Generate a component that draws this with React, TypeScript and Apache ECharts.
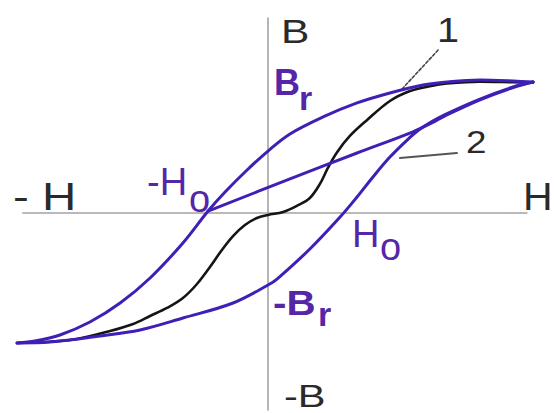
import React, { useEffect, useRef } from "react";
import * as echarts from "echarts";

// Hysteresis diagram, H (field) on x, B (induction) on y, normalised so the loop tip is (1, 1)
const hAxisLine: [number, number][] = [[-0.925, 0], [0.977, 0]];
const bAxisLine: [number, number][] = [[0, 1.489], [0, -1.504]];

// Outer loop, descending branch (from +tip to -tip)
const upperBranch: [number, number][] = [
  [1.0, 1.0], [0.925, 1.008], [0.8, 1.015], [0.675, 1.0], [0.585, 0.977],
  [0.46, 0.916], [0.336, 0.84], [0.208, 0.733], [0.083, 0.603], [0.0, 0.473],
  [-0.079, 0.328], [-0.162, 0.16], [-0.226, 0.015], [-0.321, -0.229],
  [-0.445, -0.496], [-0.558, -0.687], [-0.672, -0.832], [-0.785, -0.931],
  [-0.879, -0.977], [-0.947, -0.992],
];

// Outer loop, ascending branch (from -tip to +tip)
const lowerBranch: [number, number][] = [
  [-0.947, -0.992], [-0.823, -0.985], [-0.634, -0.939], [-0.483, -0.893],
  [-0.321, -0.802], [-0.132, -0.687], [0.0, -0.55], [0.034, -0.504],
  [0.158, -0.275], [0.272, -0.031], [0.336, 0.122], [0.396, 0.275],
  [0.46, 0.427], [0.525, 0.557], [0.57, 0.635], [0.62, 0.7],
  [0.668, 0.752], [0.8, 0.87], [0.925, 0.962], [1.0, 1.0],
];

// Curve 2: return from -H0 back to the tip
const curve2: [number, number][] = [
  [-0.226, 0.015], [0.083, 0.26], [0.336, 0.458], [0.547, 0.62],
  [0.62, 0.69], [0.668, 0.742], [0.8, 0.864], [0.925, 0.958], [1.0, 1.0],
];

// Curve 1: black S-shaped curve
const curve1: [number, number][] = [
  [-0.947, -0.992], [-0.823, -0.983], [-0.721, -0.962], [-0.596, -0.901],
  [-0.509, -0.847], [-0.445, -0.786], [-0.381, -0.725], [-0.321, -0.649],
  [-0.268, -0.542], [-0.219, -0.412], [-0.174, -0.282], [-0.132, -0.176],
  [-0.087, -0.092], [-0.042, -0.038], [0.0, -0.015], [0.057, 0.008],
  [0.109, 0.055], [0.158, 0.115], [0.196, 0.222], [0.226, 0.344],
  [0.26, 0.462], [0.309, 0.588], [0.374, 0.71], [0.46, 0.855],
  [0.536, 0.931], [0.611, 0.968], [0.675, 0.988], [0.8, 1.003],
  [0.925, 0.998], [1.0, 0.995],
];

const leader1: [number, number][] = [[0.506, 0.947], [0.642, 1.244]];
const leader2: [number, number][] = [[0.498, 0.42], [0.713, 0.458]];

const axisLabels = { bPos: "B", bNeg: "-B", hPos: "H", hNeg: "- H" };
const curveLabels = { one: "1", two: "2" };
const pointLabels = { br: ["B", "r"], brNeg: ["-B", "r"], h0: ["H", "o"], h0Neg: ["-H", "o"] };

const FONT = '"Liberation Sans", Arial, Helvetica, sans-serif';
const PURPLE = "#3f1fb5";
const LABEL_PURPLE = "#5526a8";
const DARK = "#2a2a2a";

function txt(text: string, x: number, y: number, size: number, color: string, bold = false, scaleX = 1) {
  return {
    type: "text",
    x,
    y,
    scaleX,
    silent: true,
    style: {
      text,
      fill: color,
      font: `${bold ? "bold " : ""}${size}px ${FONT}`,
      textAlign: "left",
      textVerticalAlign: "middle",
      align: "left",
      verticalAlign: "middle",
    },
  };
}

export default function App() {
  const ref = useRef<HTMLDivElement>(null);
  useEffect(() => {
    if (!ref.current) return;
    const chart = echarts.init(ref.current, null, { renderer: "svg" });
    const lineSeries = (name: string, data: [number, number][], color: string, width: number, z: number, smooth: number | boolean = 0.35, type: any = "solid") => ({
      name,
      type: "line",
      data,
      smooth,
      symbol: "none",
      clip: false,
      z,
      lineStyle: { color, width, type, cap: "round", join: "round" },
      emphasis: { disabled: true },
    });
    chart.setOption({
      animation: false,
      backgroundColor: "#ffffff",
      grid: { left: 3, right: 21, top: 82, bottom: 69 },
      xAxis: { type: "value", min: -1, max: 1, show: false },
      yAxis: { type: "value", min: -1, max: 1, show: false },
      series: [
        lineSeries("hAxis", hAxisLine, "#a3a3a3", 1.6, 1, false),
        lineSeries("bAxis", bAxisLine, "#a3a3a3", 1.6, 1, false),
        lineSeries("leader1", leader1, "#444444", 1.6, 2, false, [3, 2]),
        lineSeries("leader2", leader2, "#555555", 2, 2, false),
        lineSeries("curve1", curve1, "#151515", 2.6, 3),
        lineSeries("curve2", curve2, PURPLE, 3, 4),
        lineSeries("upper", upperBranch, PURPLE, 3, 5),
        lineSeries("lower", lowerBranch, PURPLE, 3, 5),
      ],
      graphic: [
        txt(axisLabels.bPos, 281, 31, 34, DARK, false, 1.25),
        txt(axisLabels.bNeg, 284, 396, 32, DARK, false, 1.3),
        txt(axisLabels.hNeg, 13, 197, 38, DARK, false, 1.25),
        txt(axisLabels.hPos, 523, 197, 38, DARK, false, 1.08),
        txt(curveLabels.one, 437, 30, 36, DARK, false, 1.1),
        txt(curveLabels.two, 466, 142, 32, DARK, false, 1.15),
        txt(pointLabels.br[0], 274, 82, 36, LABEL_PURPLE, true),
        txt(pointLabels.br[1], 299, 98, 34, LABEL_PURPLE, true),
        txt(pointLabels.brNeg[0], 273, 302, 36, LABEL_PURPLE, true, 1.12),
        txt(pointLabels.brNeg[1], 318, 314, 34, LABEL_PURPLE, true),
        txt(pointLabels.h0[0], 352, 234, 38, LABEL_PURPLE, false),
        txt(pointLabels.h0[1], 380, 247, 38, LABEL_PURPLE, false),
        txt(pointLabels.h0Neg[0], 147, 182, 38, LABEL_PURPLE, false),
        txt(pointLabels.h0Neg[1], 189, 199, 38, LABEL_PURPLE, false),
      ],
    });
    return () => chart.dispose();
  }, []);
  return (
    <div
      ref={ref}
      style={{ position: "absolute", left: 0, top: 0, width: 554, height: 413, background: "#fff" }}
    />
  );
}
